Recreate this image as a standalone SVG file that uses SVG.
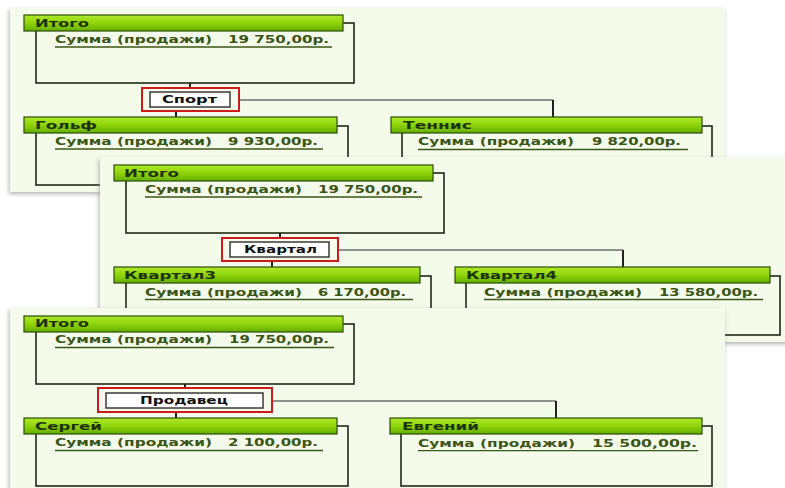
<svg xmlns="http://www.w3.org/2000/svg" width="785" height="488" viewBox="0 0 785 488">
<defs>
<linearGradient id="hg" x1="0" y1="0" x2="0" y2="1">
<stop offset="0" stop-color="#aeea2a"/>
<stop offset="0.5" stop-color="#8fd40a"/>
<stop offset="1" stop-color="#66ad00"/>
</linearGradient>
<filter id="sh" x="-5%" y="-5%" width="110%" height="115%">
<feDropShadow dx="-1" dy="2" stdDeviation="2" flood-color="#808080" flood-opacity="0.6"/>
</filter>
<style>
.panel{fill:#f4fbea;filter:url(#sh)}
.body{fill:none;stroke:#1f2a14;stroke-width:1.6}
.hdr{fill:url(#hg);stroke:#2b4d05;stroke-width:1.2}
.ht{font-family:"DejaVu Sans",Verdana,sans-serif;font-size:11px;font-weight:bold;fill:#1d3300}
.st{font-family:"DejaVu Sans",Verdana,sans-serif;font-size:11px;font-weight:bold;fill:#3b5516}
.ul{stroke:#3b5516;stroke-width:1.3}
.cl{fill:none;stroke:#6e6e6e;stroke-width:1.4}
.cd{fill:none;stroke:#222;stroke-width:2}
.red{fill:none;stroke:#cc1b1b;stroke-width:2}
.cat{fill:#fff;stroke:#3a3a3a;stroke-width:1.5}
.ct{font-family:"DejaVu Sans",Verdana,sans-serif;font-size:10px;font-weight:bold;fill:#111}
</style>
</defs>
<rect width="785" height="488" fill="#fff"/>

<g id="panel1">
<rect class="panel" x="10" y="8" width="715" height="184"/>
<g id="p1-connectors">
<line class="cd" x1="190" y1="83" x2="190" y2="88"/>
<line class="cd" x1="176" y1="111" x2="176" y2="117"/>
<polyline class="cl" points="239,100 553,100"/>
<line class="cd" x1="553" y1="100" x2="553" y2="117"/>
</g>
<g id="p1-total">
<rect class="body" x="36" y="23" width="318" height="60"/>
<rect class="hdr" x="24" y="15" width="319" height="16"/>
<text class="ht" x="35" y="26.5" textLength="54" lengthAdjust="spacingAndGlyphs">Итого</text>
<text class="st" x="55" y="42.5" textLength="157" lengthAdjust="spacingAndGlyphs">Сумма (продажи)</text>
<text class="st" x="228" y="42.5" textLength="101" lengthAdjust="spacingAndGlyphs">19 750,00р.</text>
<line class="ul" x1="55" y1="47" x2="332" y2="47"/>
</g>
<g id="p1-sport">
<rect class="red" x="142" y="88" width="97" height="23"/>
<rect class="cat" x="150" y="92" width="80" height="15"/>
<text class="ct" x="162" y="102.5" textLength="55" lengthAdjust="spacingAndGlyphs">Спорт</text>
</g>
<g id="p1-golf">
<rect class="body" x="36" y="126" width="312" height="59"/>
<rect class="hdr" x="24" y="117" width="313" height="16"/>
<text class="ht" x="35" y="129.3" textLength="62" lengthAdjust="spacingAndGlyphs">Гольф</text>
<text class="st" x="55" y="144.5" textLength="157" lengthAdjust="spacingAndGlyphs">Сумма (продажи)</text>
<text class="st" x="228" y="144.5" textLength="90" lengthAdjust="spacingAndGlyphs">9 930,00р.</text>
<line class="ul" x1="55" y1="149" x2="323" y2="149"/>
</g>
<g id="p1-tennis">
<rect class="body" x="402" y="126" width="310" height="59"/>
<rect class="hdr" x="391" y="117" width="311" height="16"/>
<text class="ht" x="403" y="129.3" textLength="69" lengthAdjust="spacingAndGlyphs">Теннис</text>
<text class="st" x="418" y="145" textLength="156" lengthAdjust="spacingAndGlyphs">Сумма (продажи)</text>
<text class="st" x="592" y="145" textLength="89" lengthAdjust="spacingAndGlyphs">9 820,00р.</text>
<line class="ul" x1="418" y1="149.5" x2="688" y2="149.5"/>
</g>
</g>

<g id="panel2">
<rect class="panel" x="100" y="157" width="700" height="185"/>
<g id="p2-connectors">
<line class="cd" x1="280" y1="233" x2="280" y2="238"/>
<line class="cd" x1="272" y1="261" x2="272" y2="267"/>
<polyline class="cl" points="338,250 623,250"/>
<line class="cd" x1="623" y1="250" x2="623" y2="267"/>
</g>
<g id="p2-total">
<rect class="body" x="126" y="173" width="318" height="60"/>
<rect class="hdr" x="114" y="165" width="319" height="16"/>
<text class="ht" x="124" y="176.7" textLength="55" lengthAdjust="spacingAndGlyphs">Итого</text>
<text class="st" x="145" y="192.7" textLength="157" lengthAdjust="spacingAndGlyphs">Сумма (продажи)</text>
<text class="st" x="318" y="192.7" textLength="100" lengthAdjust="spacingAndGlyphs">19 750,00р.</text>
<line class="ul" x1="145" y1="197" x2="422" y2="197"/>
</g>
<g id="p2-quarter">
<rect class="red" x="222" y="238" width="116" height="23"/>
<rect class="cat" x="230" y="242" width="99" height="15"/>
<text class="ct" x="244" y="252.5" textLength="73" lengthAdjust="spacingAndGlyphs">Квартал</text>
</g>
<g id="p2-q3">
<rect class="body" x="126" y="276" width="305" height="59"/>
<rect class="hdr" x="114" y="267" width="306" height="16"/>
<text class="ht" x="124" y="279.3" textLength="92" lengthAdjust="spacingAndGlyphs">Квартал3</text>
<text class="st" x="145" y="295.7" textLength="157" lengthAdjust="spacingAndGlyphs">Сумма (продажи)</text>
<text class="st" x="318" y="295.7" textLength="88" lengthAdjust="spacingAndGlyphs">6 170,00р.</text>
<line class="ul" x1="145" y1="299.5" x2="413" y2="299.5"/>
</g>
<g id="p2-q4">
<rect class="body" x="466" y="276" width="314" height="59"/>
<rect class="hdr" x="455" y="267" width="315" height="16"/>
<text class="ht" x="466" y="279.3" textLength="91" lengthAdjust="spacingAndGlyphs">Квартал4</text>
<text class="st" x="484" y="295.7" textLength="158" lengthAdjust="spacingAndGlyphs">Сумма (продажи)</text>
<text class="st" x="659" y="295.7" textLength="99" lengthAdjust="spacingAndGlyphs">13 580,00р.</text>
<line class="ul" x1="484" y1="299.5" x2="763" y2="299.5"/>
</g>
</g>

<g id="panel3">
<rect class="panel" x="10" y="308" width="715" height="190"/>
<g id="p3-connectors">
<line class="cd" x1="185" y1="384" x2="185" y2="388"/>
<line class="cd" x1="176" y1="412" x2="176" y2="418"/>
<polyline class="cl" points="272,401 556,401"/>
<line class="cd" x1="556" y1="401" x2="556" y2="418"/>
</g>
<g id="p3-total">
<rect class="body" x="36" y="324" width="318" height="60"/>
<rect class="hdr" x="24" y="316" width="319" height="16"/>
<text class="ht" x="35" y="327.3" textLength="54" lengthAdjust="spacingAndGlyphs">Итого</text>
<text class="st" x="55" y="342.7" textLength="157" lengthAdjust="spacingAndGlyphs">Сумма (продажи)</text>
<text class="st" x="229" y="342.7" textLength="100" lengthAdjust="spacingAndGlyphs">19 750,00р.</text>
<line class="ul" x1="55" y1="347.5" x2="334" y2="347.5"/>
</g>
<g id="p3-seller">
<rect class="red" x="98" y="388" width="174" height="24"/>
<rect class="cat" x="106" y="393" width="157" height="15"/>
<text class="ct" x="140" y="404" textLength="88" lengthAdjust="spacingAndGlyphs">Продавец</text>
</g>
<g id="p3-sergey">
<rect class="body" x="36" y="426" width="312" height="60"/>
<rect class="hdr" x="24" y="418" width="313" height="16"/>
<text class="ht" x="35" y="430" textLength="67" lengthAdjust="spacingAndGlyphs">Сергей</text>
<text class="st" x="55" y="446" textLength="157" lengthAdjust="spacingAndGlyphs">Сумма (продажи)</text>
<text class="st" x="228" y="446" textLength="90" lengthAdjust="spacingAndGlyphs">2 100,00р.</text>
<line class="ul" x1="55" y1="450.5" x2="323" y2="450.5"/>
</g>
<g id="p3-evgeny">
<rect class="body" x="401" y="426" width="311" height="60"/>
<rect class="hdr" x="390" y="418" width="312" height="16"/>
<text class="ht" x="402" y="429.5" textLength="77" lengthAdjust="spacingAndGlyphs">Евгений</text>
<text class="st" x="418" y="446.5" textLength="157" lengthAdjust="spacingAndGlyphs">Сумма (продажи)</text>
<text class="st" x="592" y="446.5" textLength="105" lengthAdjust="spacingAndGlyphs">15 500,00р.</text>
<line class="ul" x1="418" y1="450.7" x2="698" y2="450.7"/>
</g>
</g>
</svg>
